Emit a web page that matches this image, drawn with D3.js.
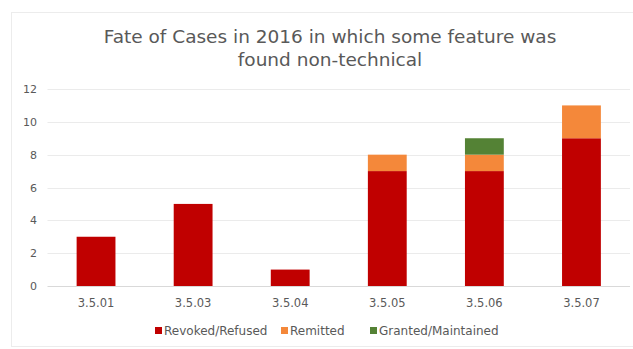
<!DOCTYPE html>
<html>
<head>
<meta charset="utf-8">
<script src="https://cdn.jsdelivr.net/npm/d3@7"></script>
<style>
  body { margin: 0; background: #fff; }
  text { font-family: "DejaVu Sans", Verdana, sans-serif; fill: #595959; }
</style>
</head>
<body>
<svg id="chart" width="633" height="349"></svg>
<script>
// chart data
var categories = ["3.5.01", "3.5.03", "3.5.04", "3.5.05", "3.5.06", "3.5.07"];
var seriesNames = ["Revoked/Refused", "Remitted", "Granted/Maintained"];
var revoked = [3, 5, 1, 7, 7, 9];
var remitted = [0, 0, 0, 1, 1, 2];
var granted = [0, 0, 0, 0, 1, 0];
var yTicks = [0, 2, 4, 6, 8, 10, 12];
var titleLines = ["Fate of Cases in 2016 in which some feature was", "found non-technical"];

var colors = ["#c00000", "#f4883a", "#548235"];

var svg = d3.select("#chart");
var W = 633, H = 349;
var margin = {top: 89, right: 3, bottom: 63, left: 47.5};

// outer chart border
svg.append("rect")
   .attr("x", 11.5).attr("y", 12.5)
   .attr("width", W).attr("height", H - 15)
   .attr("fill", "none")
   .attr("stroke", "#ececec");

// title
svg.append("text")
   .attr("x", 330).attr("y", 43)
   .attr("text-anchor", "middle")
   .style("font-size", "18.5px")
   .selectAll("tspan")
   .data(titleLines)
   .enter().append("tspan")
   .attr("x", 330)
   .attr("dy", function(d, i) { return i ? 23 : 0; })
   .text(function(d) { return d; });

var xScale = d3.scaleBand()
   .domain(categories)
   .range([margin.left, W - margin.right])
   .paddingInner(0.6)
   .paddingOuter(0.3);

var yScale = d3.scaleLinear()
   .domain([0, 12])
   .range([H - margin.bottom, margin.top]);

// gridlines
svg.append("g")
   .selectAll("line")
   .data(yTicks)
   .enter().append("line")
   .attr("x1", margin.left).attr("x2", W - margin.right)
   .attr("y1", function(d) { return Math.round(yScale(d)) + 0.5; })
   .attr("y2", function(d) { return Math.round(yScale(d)) + 0.5; })
   .attr("stroke", function(d) { return d === 0 ? "#d9d9d9" : "#ebebeb"; });

// y axis labels
var yAxis = d3.axisLeft(yScale).tickValues(yTicks).tickSize(0).tickPadding(0);
svg.append("g")
   .attr("transform", "translate(" + 37 + ",0)")
   .call(yAxis)
   .call(function(g) { g.select(".domain").remove(); })
   .selectAll("text")
   .style("font-size", "11px")
   .attr("fill", "#7f7f7f");

// x axis labels
var xAxis = d3.axisBottom(xScale).tickSize(0).tickPadding(0);
svg.append("g")
   .attr("transform", "translate(0," + 299 + ")")
   .call(xAxis)
   .call(function(g) { g.select(".domain").remove(); })
   .selectAll("text")
   .style("font-size", "11.5px")
   .attr("fill", "#595959");

// stacked bars
var rows = categories.map(function(c, i) {
   return {cat: c, "Revoked/Refused": revoked[i], "Remitted": remitted[i], "Granted/Maintained": granted[i]};
});
var stack = d3.stack().keys(seriesNames)(rows);

svg.append("g")
   .selectAll("g")
   .data(stack)
   .enter().append("g")
   .attr("fill", function(d, i) { return colors[i]; })
   .selectAll("rect")
   .data(function(d) { return d.filter(function(p) { return p[1] > p[0]; }); })
   .enter().append("rect")
   .attr("x", function(d) { return xScale(d.data.cat); })
   .attr("width", xScale.bandwidth())
   .attr("y", function(d) { return yScale(d[1]); })
   .attr("height", function(d) { return yScale(d[0]) - yScale(d[1]); });

// legend
var legendX = [155, 281, 370];
var legend = svg.append("g").selectAll("g")
   .data(seriesNames)
   .enter().append("g")
   .attr("transform", function(d, i) { return "translate(" + legendX[i] + "," + 331 + ")"; });
legend.append("rect")
   .attr("x", 0).attr("y", -4)
   .attr("width", 7).attr("height", 7)
   .attr("fill", function(d, i) { return colors[i]; });
legend.append("text")
   .attr("x", 9).attr("y", 4)
   .style("font-size", "12px")
   .text(function(d) { return d; });
</script>
</body>
</html>
